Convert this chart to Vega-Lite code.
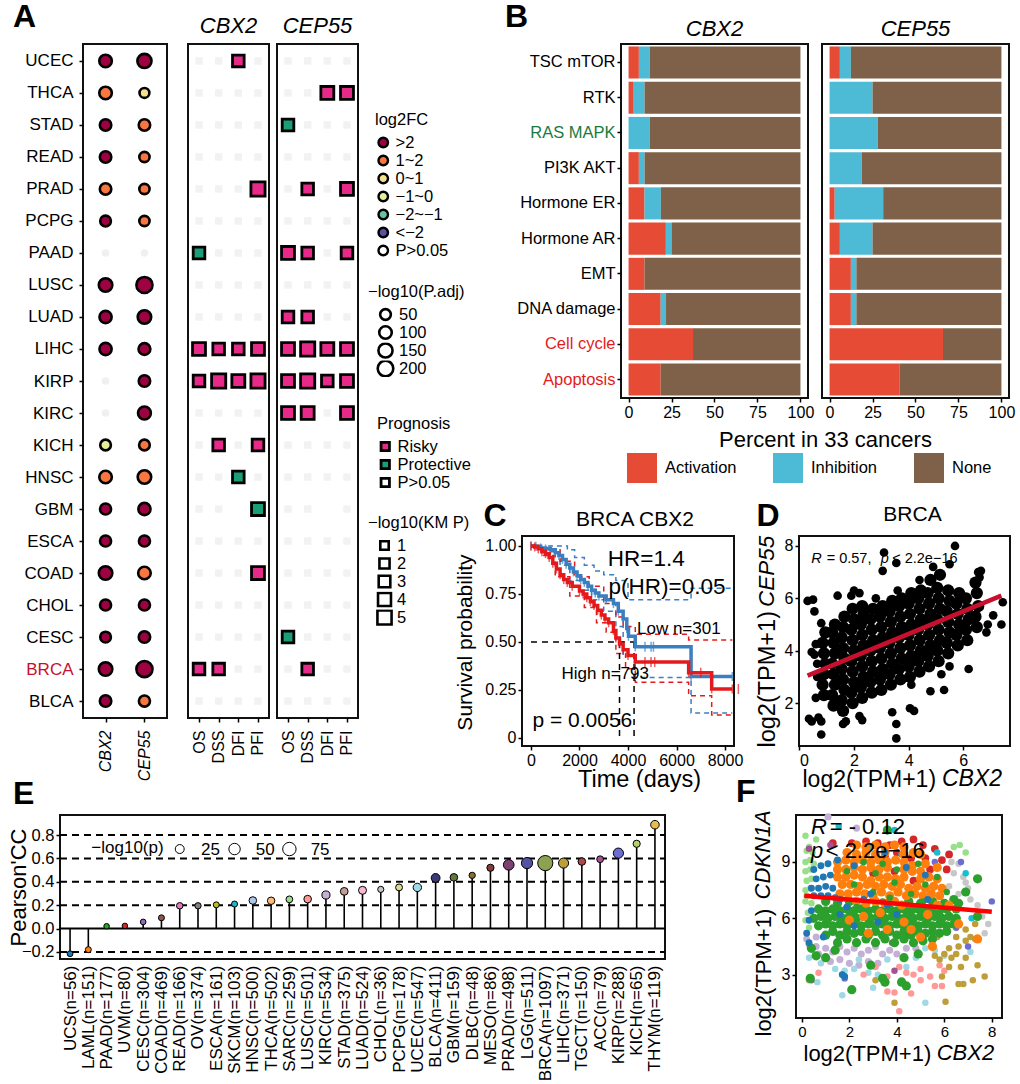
{"$schema":"https://vega.github.io/schema/vega-lite/v6.json","padding":{"left":5,"top":1,"right":0,"bottom":0},"background":"white",
"config":{"font":"Liberation Sans","view":{"stroke":"#111","strokeWidth":2},"axis":{"grid":false,"domain":false,"tickColor":"black","tickSize":4,"tickWidth":1.5,"labelColor":"black","titleColor":"black","titleFontWeight":"normal","labelFontSize":16,"titleFontSize":22},"legend":{"titleFontWeight":"normal","titleFontSize":16.5,"labelFontSize":16.5,"titleColor":"black","labelColor":"black","titlePadding":6,"rowPadding":1,"clipHeight":16,"symbolOpacity":1},"title":{"fontWeight":"normal","color":"black","frame":"group"}},
"datasets":{
"ns2":[{"c":"UCEC","e":"OS"},{"c":"UCEC","e":"DSS"},{"c":"UCEC","e":"PFI"},{"c":"THCA","e":"OS"},{"c":"THCA","e":"DSS"},{"c":"THCA","e":"DFI"},{"c":"THCA","e":"PFI"},{"c":"STAD","e":"OS"},{"c":"STAD","e":"DSS"},{"c":"STAD","e":"DFI"},{"c":"STAD","e":"PFI"},{"c":"READ","e":"OS"},{"c":"READ","e":"DSS"},{"c":"READ","e":"DFI"},{"c":"READ","e":"PFI"},{"c":"PRAD","e":"OS"},{"c":"PRAD","e":"DSS"},{"c":"PRAD","e":"DFI"},{"c":"PCPG","e":"OS"},{"c":"PCPG","e":"DSS"},{"c":"PCPG","e":"DFI"},{"c":"PCPG","e":"PFI"},{"c":"PAAD","e":"DSS"},{"c":"PAAD","e":"DFI"},{"c":"PAAD","e":"PFI"},{"c":"LUSC","e":"OS"},{"c":"LUSC","e":"DSS"},{"c":"LUSC","e":"DFI"},{"c":"LUSC","e":"PFI"},{"c":"LUAD","e":"OS"},{"c":"LUAD","e":"DSS"},{"c":"LUAD","e":"DFI"},{"c":"LUAD","e":"PFI"},{"c":"KIRC","e":"OS"},{"c":"KIRC","e":"DSS"},{"c":"KIRC","e":"DFI"},{"c":"KIRC","e":"PFI"},{"c":"KICH","e":"OS"},{"c":"KICH","e":"DFI"},{"c":"HNSC","e":"OS"},{"c":"HNSC","e":"DSS"},{"c":"HNSC","e":"PFI"},{"c":"GBM","e":"OS"},{"c":"GBM","e":"DSS"},{"c":"ESCA","e":"OS"},{"c":"ESCA","e":"DSS"},{"c":"ESCA","e":"DFI"},{"c":"ESCA","e":"PFI"},{"c":"COAD","e":"OS"},{"c":"COAD","e":"DSS"},{"c":"COAD","e":"DFI"},{"c":"CHOL","e":"OS"},{"c":"CHOL","e":"DSS"},{"c":"CHOL","e":"DFI"},{"c":"CHOL","e":"PFI"},{"c":"CESC","e":"OS"},{"c":"CESC","e":"DSS"},{"c":"CESC","e":"DFI"},{"c":"CESC","e":"PFI"},{"c":"BRCA","e":"DFI"},{"c":"BRCA","e":"PFI"},{"c":"BLCA","e":"OS"},{"c":"BLCA","e":"DSS"},{"c":"BLCA","e":"DFI"},{"c":"BLCA","e":"PFI"}],
"ns5":[{"c":"UCEC","e":"OS"},{"c":"UCEC","e":"DSS"},{"c":"UCEC","e":"DFI"},{"c":"UCEC","e":"PFI"},{"c":"THCA","e":"OS"},{"c":"THCA","e":"DSS"},{"c":"STAD","e":"DSS"},{"c":"STAD","e":"DFI"},{"c":"STAD","e":"PFI"},{"c":"READ","e":"OS"},{"c":"READ","e":"DSS"},{"c":"READ","e":"DFI"},{"c":"READ","e":"PFI"},{"c":"PRAD","e":"OS"},{"c":"PRAD","e":"DFI"},{"c":"PCPG","e":"OS"},{"c":"PCPG","e":"DSS"},{"c":"PCPG","e":"DFI"},{"c":"PCPG","e":"PFI"},{"c":"PAAD","e":"DFI"},{"c":"LUSC","e":"OS"},{"c":"LUSC","e":"DSS"},{"c":"LUSC","e":"DFI"},{"c":"LUSC","e":"PFI"},{"c":"LUAD","e":"DFI"},{"c":"LUAD","e":"PFI"},{"c":"KIRC","e":"DFI"},{"c":"KICH","e":"OS"},{"c":"KICH","e":"DSS"},{"c":"KICH","e":"DFI"},{"c":"KICH","e":"PFI"},{"c":"HNSC","e":"OS"},{"c":"HNSC","e":"DSS"},{"c":"HNSC","e":"DFI"},{"c":"HNSC","e":"PFI"},{"c":"GBM","e":"OS"},{"c":"GBM","e":"DSS"},{"c":"GBM","e":"PFI"},{"c":"ESCA","e":"OS"},{"c":"ESCA","e":"DSS"},{"c":"ESCA","e":"DFI"},{"c":"ESCA","e":"PFI"},{"c":"COAD","e":"OS"},{"c":"COAD","e":"DSS"},{"c":"COAD","e":"DFI"},{"c":"COAD","e":"PFI"},{"c":"CHOL","e":"OS"},{"c":"CHOL","e":"DSS"},{"c":"CHOL","e":"DFI"},{"c":"CHOL","e":"PFI"},{"c":"CESC","e":"DSS"},{"c":"CESC","e":"DFI"},{"c":"CESC","e":"PFI"},{"c":"BRCA","e":"OS"},{"c":"BRCA","e":"DFI"},{"c":"BRCA","e":"PFI"},{"c":"BLCA","e":"OS"},{"c":"BLCA","e":"DSS"},{"c":"BLCA","e":"DFI"},{"c":"BLCA","e":"PFI"}],
"sig2":[{"c":"UCEC","e":"DFI","p":"Risky","k":3},{"c":"PRAD","e":"PFI","p":"Risky","k":5},{"c":"PAAD","e":"OS","p":"Protective","k":3},{"c":"LIHC","e":"OS","p":"Risky","k":4},{"c":"LIHC","e":"DSS","p":"Risky","k":3},{"c":"LIHC","e":"DFI","p":"Risky","k":3},{"c":"LIHC","e":"PFI","p":"Risky","k":4},{"c":"KIRP","e":"OS","p":"Risky","k":3},{"c":"KIRP","e":"DSS","p":"Risky","k":5},{"c":"KIRP","e":"DFI","p":"Risky","k":4},{"c":"KIRP","e":"PFI","p":"Risky","k":5},{"c":"KICH","e":"DSS","p":"Risky","k":3},{"c":"KICH","e":"PFI","p":"Risky","k":3},{"c":"HNSC","e":"DFI","p":"Protective","k":3},{"c":"GBM","e":"PFI","p":"Protective","k":4},{"c":"COAD","e":"PFI","p":"Risky","k":4},{"c":"BRCA","e":"OS","p":"Risky","k":3},{"c":"BRCA","e":"DSS","p":"Risky","k":3}],
"sig5":[{"c":"THCA","e":"DFI","p":"Risky","k":4},{"c":"THCA","e":"PFI","p":"Risky","k":4},{"c":"STAD","e":"OS","p":"Protective","k":3},{"c":"PRAD","e":"DSS","p":"Risky","k":3},{"c":"PRAD","e":"PFI","p":"Risky","k":4},{"c":"PAAD","e":"OS","p":"Risky","k":4},{"c":"PAAD","e":"DSS","p":"Risky","k":3},{"c":"PAAD","e":"PFI","p":"Risky","k":3},{"c":"LUAD","e":"OS","p":"Risky","k":3},{"c":"LUAD","e":"DSS","p":"Risky","k":3},{"c":"LIHC","e":"OS","p":"Risky","k":4},{"c":"LIHC","e":"DSS","p":"Risky","k":5},{"c":"LIHC","e":"DFI","p":"Risky","k":4},{"c":"LIHC","e":"PFI","p":"Risky","k":4},{"c":"KIRP","e":"OS","p":"Risky","k":4},{"c":"KIRP","e":"DSS","p":"Risky","k":5},{"c":"KIRP","e":"DFI","p":"Risky","k":3},{"c":"KIRP","e":"PFI","p":"Risky","k":4},{"c":"KIRC","e":"OS","p":"Risky","k":4},{"c":"KIRC","e":"DSS","p":"Risky","k":4},{"c":"KIRC","e":"PFI","p":"Risky","k":4},{"c":"CESC","e":"OS","p":"Protective","k":3},{"c":"BRCA","e":"DSS","p":"Risky","k":3}],
"expr":[{"c":"UCEC","g":"CBX2","f":">2","s":100},{"c":"UCEC","g":"CEP55","f":">2","s":150},{"c":"THCA","g":"CBX2","f":"1~2","s":100},{"c":"THCA","g":"CEP55","f":"0~1","s":30},{"c":"STAD","g":"CBX2","f":">2","s":70},{"c":"STAD","g":"CEP55","f":"1~2","s":70},{"c":"READ","g":"CBX2","f":">2","s":70},{"c":"READ","g":"CEP55","f":"1~2","s":40},{"c":"PRAD","g":"CBX2","f":"1~2","s":70},{"c":"PRAD","g":"CEP55","f":"1~2","s":40},{"c":"PCPG","g":"CBX2","f":">2","s":50},{"c":"PCPG","g":"CEP55","f":"1~2","s":40},{"c":"LUSC","g":"CBX2","f":">2","s":130},{"c":"LUSC","g":"CEP55","f":">2","s":220},{"c":"LUAD","g":"CBX2","f":">2","s":90},{"c":"LUAD","g":"CEP55","f":">2","s":130},{"c":"LIHC","g":"CBX2","f":">2","s":90},{"c":"LIHC","g":"CEP55","f":">2","s":80},{"c":"KIRP","g":"CEP55","f":">2","s":70},{"c":"KIRC","g":"CEP55","f":">2","s":110},{"c":"KICH","g":"CBX2","f":"−1~0","s":50},{"c":"KICH","g":"CEP55","f":"1~2","s":50},{"c":"HNSC","g":"CBX2","f":"1~2","s":100},{"c":"HNSC","g":"CEP55","f":"1~2","s":130},{"c":"GBM","g":"CBX2","f":">2","s":60},{"c":"GBM","g":"CEP55","f":">2","s":90},{"c":"ESCA","g":"CBX2","f":">2","s":60},{"c":"ESCA","g":"CEP55","f":">2","s":60},{"c":"COAD","g":"CBX2","f":">2","s":130},{"c":"COAD","g":"CEP55","f":"1~2","s":100},{"c":"CHOL","g":"CBX2","f":">2","s":60},{"c":"CHOL","g":"CEP55","f":">2","s":60},{"c":"CESC","g":"CBX2","f":">2","s":50},{"c":"CESC","g":"CEP55","f":">2","s":70},{"c":"BRCA","g":"CBX2","f":">2","s":130},{"c":"BRCA","g":"CEP55","f":">2","s":220},{"c":"BLCA","g":"CBX2","f":">2","s":70},{"c":"BLCA","g":"CEP55","f":"1~2","s":60}],
"exprNs":[{"c":"PAAD","g":"CBX2"},{"c":"PAAD","g":"CEP55"},{"c":"KIRP","g":"CBX2"},{"c":"KIRC","g":"CBX2"}],
"pw2":[{"k":"TSC mTOR","s":"Activation","v":6},{"k":"TSC mTOR","s":"Inhibition","v":6.4},{"k":"TSC mTOR","s":"None","v":87.6},{"k":"RTK","s":"Activation","v":3},{"k":"RTK","s":"Inhibition","v":6.3},{"k":"RTK","s":"None","v":90.7},{"k":"RAS MAPK","s":"Inhibition","v":12.4},{"k":"RAS MAPK","s":"None","v":87.6},{"k":"PI3K AKT","s":"Activation","v":6},{"k":"PI3K AKT","s":"Inhibition","v":3.3},{"k":"PI3K AKT","s":"None","v":90.7},{"k":"Hormone ER","s":"Activation","v":9.3},{"k":"Hormone ER","s":"Inhibition","v":9.5},{"k":"Hormone ER","s":"None","v":81.2},{"k":"Hormone AR","s":"Activation","v":21.7},{"k":"Hormone AR","s":"Inhibition","v":3.3},{"k":"Hormone AR","s":"None","v":75},{"k":"EMT","s":"Activation","v":9.3},{"k":"EMT","s":"None","v":90.7},{"k":"DNA damage","s":"Activation","v":18.7},{"k":"DNA damage","s":"Inhibition","v":3.1},{"k":"DNA damage","s":"None","v":78.2},{"k":"Cell cycle","s":"Activation","v":37.5},{"k":"Cell cycle","s":"None","v":62.5},{"k":"Apoptosis","s":"Activation","v":18.7},{"k":"Apoptosis","s":"None","v":81.3}],
"pw5":[{"k":"TSC mTOR","s":"Activation","v":6},{"k":"TSC mTOR","s":"Inhibition","v":6.4},{"k":"TSC mTOR","s":"None","v":87.6},{"k":"RTK","s":"Inhibition","v":25},{"k":"RTK","s":"None","v":75},{"k":"RAS MAPK","s":"Inhibition","v":28},{"k":"RAS MAPK","s":"None","v":72},{"k":"PI3K AKT","s":"Inhibition","v":18.7},{"k":"PI3K AKT","s":"None","v":81.3},{"k":"Hormone ER","s":"Activation","v":3},{"k":"Hormone ER","s":"Inhibition","v":28.2},{"k":"Hormone ER","s":"None","v":68.8},{"k":"Hormone AR","s":"Activation","v":6},{"k":"Hormone AR","s":"Inhibition","v":19},{"k":"Hormone AR","s":"None","v":75},{"k":"EMT","s":"Activation","v":12.4},{"k":"EMT","s":"Inhibition","v":3.2},{"k":"EMT","s":"None","v":84.4},{"k":"DNA damage","s":"Activation","v":12.4},{"k":"DNA damage","s":"Inhibition","v":3.2},{"k":"DNA damage","s":"None","v":84.4},{"k":"Cell cycle","s":"Activation","v":66},{"k":"Cell cycle","s":"None","v":34},{"k":"Apoptosis","s":"Activation","v":40.6},{"k":"Apoptosis","s":"None","v":59.4}],
"blue":[{"t":0,"s":1},{"t":200,"s":0.998},{"t":400,"s":0.99},{"t":600,"s":0.985},{"t":800,"s":0.98},{"t":1000,"s":0.965},{"t":1150,"s":0.95},{"t":1300,"s":0.93},{"t":1450,"s":0.905},{"t":1600,"s":0.885},{"t":1750,"s":0.865},{"t":1900,"s":0.845},{"t":2050,"s":0.825},{"t":2200,"s":0.81},{"t":2350,"s":0.79},{"t":2500,"s":0.77},{"t":2650,"s":0.755},{"t":2800,"s":0.74},{"t":3100,"s":0.72},{"t":3400,"s":0.7},{"t":3600,"s":0.66},{"t":3800,"s":0.62},{"t":3950,"s":0.57},{"t":4020,"s":0.53},{"t":4300,"s":0.475},{"t":6600,"s":0.32},{"t":8300,"s":0.32}],
"red":[{"t":0,"s":1},{"t":150,"s":0.995},{"t":300,"s":0.985},{"t":450,"s":0.97},{"t":600,"s":0.96},{"t":750,"s":0.94},{"t":900,"s":0.91},{"t":1050,"s":0.88},{"t":1200,"s":0.85},{"t":1350,"s":0.825},{"t":1500,"s":0.81},{"t":1700,"s":0.79},{"t":2000,"s":0.765},{"t":2150,"s":0.75},{"t":2300,"s":0.73},{"t":2450,"s":0.71},{"t":2600,"s":0.69},{"t":2750,"s":0.665},{"t":2900,"s":0.64},{"t":3050,"s":0.62},{"t":3200,"s":0.6},{"t":3400,"s":0.56},{"t":3500,"s":0.52},{"t":3650,"s":0.49},{"t":3800,"s":0.46},{"t":4000,"s":0.43},{"t":4300,"s":0.395},{"t":6500,"s":0.34},{"t":7450,"s":0.255},{"t":8300,"s":0.255}],
"blueCI":[{"b":"u","t":700,"s":1},{"b":"u","t":1500,"s":0.98},{"b":"u","t":1800,"s":0.94},{"b":"u","t":2200,"s":0.9},{"b":"u","t":2600,"s":0.87},{"b":"u","t":3000,"s":0.85},{"b":"u","t":3500,"s":0.82},{"b":"u","t":4000,"s":0.72},{"b":"u","t":6600,"s":0.78},{"b":"u","t":8300,"s":0.78},{"b":"l","t":800,"s":0.97},{"b":"l","t":1200,"s":0.9},{"b":"l","t":1600,"s":0.82},{"b":"l","t":2000,"s":0.77},{"b":"l","t":2500,"s":0.72},{"b":"l","t":3000,"s":0.66},{"b":"l","t":3500,"s":0.58},{"b":"l","t":3800,"s":0.43},{"b":"l","t":4300,"s":0.315},{"b":"l","t":6600,"s":0.13},{"b":"l","t":8300,"s":0.13}],
"redCI":[{"b":"u","t":800,"s":0.98},{"b":"u","t":1200,"s":0.92},{"b":"u","t":1800,"s":0.84},{"b":"u","t":2400,"s":0.79},{"b":"u","t":3000,"s":0.7},{"b":"u","t":3500,"s":0.63},{"b":"u","t":3800,"s":0.58},{"b":"u","t":4300,"s":0.54},{"b":"u","t":6500,"s":0.51},{"b":"u","t":8300,"s":0.51},{"b":"l","t":500,"s":0.95},{"b":"l","t":1000,"s":0.84},{"b":"l","t":1600,"s":0.74},{"b":"l","t":2200,"s":0.68},{"b":"l","t":2700,"s":0.6},{"b":"l","t":3100,"s":0.55},{"b":"l","t":3500,"s":0.44},{"b":"l","t":3900,"s":0.36},{"b":"l","t":4300,"s":0.29},{"b":"l","t":6500,"s":0.22},{"b":"l","t":7450,"s":0.12},{"b":"l","t":8300,"s":0.12}],
"lollipop":[{"c":"UCS(n=56)","v":-0.215,"p":2},{"c":"LAML(n=151)","v":-0.18,"p":3},{"c":"PAAD(n=177)","v":0.02,"p":0.5},{"c":"UVM(n=80)","v":0.023,"p":0.3},{"c":"CESC(n=304)","v":0.057,"p":1},{"c":"COAD(n=469)","v":0.092,"p":3},{"c":"READ(n=166)","v":0.195,"p":6},{"c":"OV(n=374)","v":0.195,"p":5},{"c":"ESCA(n=161)","v":0.203,"p":3},{"c":"SKCM(n=103)","v":0.21,"p":3},{"c":"HNSC(n=500)","v":0.24,"p":14},{"c":"THCA(n=502)","v":0.238,"p":13},{"c":"SARC(n=259)","v":0.25,"p":8},{"c":"LUSC(n=501)","v":0.252,"p":14},{"c":"KIRC(n=534)","v":0.287,"p":18},{"c":"STAD(n=375)","v":0.318,"p":15},{"c":"LUAD(n=524)","v":0.327,"p":17},{"c":"CHOL(n=36)","v":0.335,"p":4},{"c":"PCPG(n=178)","v":0.352,"p":9},{"c":"UCEC(n=547)","v":0.352,"p":20},{"c":"BLCA(n=411)","v":0.433,"p":24},{"c":"GBM(n=159)","v":0.438,"p":14},{"c":"DLBC(n=48)","v":0.455,"p":5},{"c":"MESO(n=86)","v":0.52,"p":11},{"c":"PRAD(n=498)","v":0.545,"p":42},{"c":"LGG(n=511)","v":0.56,"p":48},{"c":"BRCA(n=1097)","v":0.56,"p":100},{"c":"LIHC(n=371)","v":0.56,"p":36},{"c":"TGCT(n=150)","v":0.573,"p":14},{"c":"ACC(n=79)","v":0.593,"p":8},{"c":"KIRP(n=288)","v":0.645,"p":37},{"c":"KICH(n=65)","v":0.725,"p":11},{"c":"THYM(n=119)","v":0.888,"p":22}]
},
"resolve":{"scale":{"fill":"independent","size":"independent","color":"independent"}},
"vconcat":[
{"resolve":{"scale":{"fill":"independent","size":"independent","color":"independent"}},"hconcat":[
 {"resolve":{"scale":{"fill":"independent","size":"independent","color":"independent"}},"hconcat":[
  {"resolve":{"scale":{"fill":"independent","size":"independent","color":"independent"}},"hconcat":[
   {"width":15,"height":674,"view":{"stroke":null},"title":{"text":"A","fontSize":32,"fontWeight":"bold","anchor":"start","dx":-47,"offset":10},"data":{"values":[{"t":""}]},"mark":"text","encoding":{"text":{"field":"t"}}},
   {"width":84,"height":674,
    "encoding":{"x":{"field":"g","type":"nominal","scale":{"type":"point","domain":["CBX2","CEP55"],"padding":0.58},"axis":{"title":null,"labelAngle":270,"labelFontStyle":"italic","labelPadding":8}},
     "y":{"field":"c","type":"nominal","scale":{"type":"point","padding":0.53,"domain":["UCEC","THCA","STAD","READ","PRAD","PCPG","PAAD","LUSC","LUAD","LIHC","KIRP","KIRC","KICH","HNSC","GBM","ESCA","COAD","CHOL","CESC","BRCA","BLCA"]},"axis":{"title":null,"labelPadding":6,"labelFontSize":17,"labelColor":{"condition":{"test":"datum.label==='BRCA'","value":"#c8102e"},"value":"black"}}}},
    "layer":[
     {"data":{"name":"exprNs"},"mark":{"type":"circle","size":55,"color":"#f0f0f0","opacity":1}},
     {"data":{"name":"expr"},"mark":{"type":"point","shape":"circle","filled":true,"stroke":"black","strokeWidth":2.6,"opacity":1},"encoding":{
       "fill":{"field":"f","type":"nominal","legend":null,"scale":{"domain":[">2","1~2","0~1","−1~0","−2~−1","<−2","P>0.05"],"range":["#9e0142","#f9763f","#f6e08b","#e8ed98","#66c2a5","#5e4fa2","#ffffff"]}},
       "size":{"field":"s","type":"quantitative","legend":null,"scale":{"domain":[10,220],"range":[80,260]}}}}
    ]}
   ],"spacing":8,"bounds":"flush"},
  {"resolve":{"scale":{"fill":"independent","size":"independent","color":"independent"}},"hconcat":[
   {"width":81,"height":674,"title":{"text":"CBX2","fontStyle":"italic","fontSize":22,"offset":6},
    "encoding":{"x":{"field":"e","type":"nominal","scale":{"type":"point","domain":["OS","DSS","DFI","PFI"],"padding":0.56},"axis":{"title":null,"labelAngle":270,"labelPadding":8}},
     "y":{"field":"c","type":"nominal","scale":{"type":"point","padding":0.53,"domain":["UCEC","THCA","STAD","READ","PRAD","PCPG","PAAD","LUSC","LUAD","LIHC","KIRP","KIRC","KICH","HNSC","GBM","ESCA","COAD","CHOL","CESC","BRCA","BLCA"]},"axis":null}},
    "layer":[
     {"data":{"name":"ns2"},"mark":{"type":"square","size":55,"color":"#f2f2f2","opacity":1}},
     {"data":{"name":"sig2"},"mark":{"type":"point","shape":"square","filled":true,"stroke":"black","strokeWidth":2.8,"opacity":1},"encoding":{
       "fill":{"field":"p","type":"nominal","legend":null,"scale":{"domain":["Risky","Protective","P>0.05"],"range":["#e7298a","#1b9e77","#ffffff"]}},
       "size":{"field":"k","type":"quantitative","legend":null,"scale":{"domain":[1,5],"range":[70,200]}}}}
    ]},
   {"width":81,"height":674,"title":{"text":"CEP55","fontStyle":"italic","fontSize":22,"offset":6},
    "encoding":{"x":{"field":"e","type":"nominal","scale":{"type":"point","domain":["OS","DSS","DFI","PFI"],"padding":0.56},"axis":{"title":null,"labelAngle":270,"labelPadding":8}},
     "y":{"field":"c","type":"nominal","scale":{"type":"point","padding":0.53,"domain":["UCEC","THCA","STAD","READ","PRAD","PCPG","PAAD","LUSC","LUAD","LIHC","KIRP","KIRC","KICH","HNSC","GBM","ESCA","COAD","CHOL","CESC","BRCA","BLCA"]},"axis":null}},
    "layer":[
     {"data":{"name":"ns5"},"mark":{"type":"square","size":55,"color":"#f2f2f2","opacity":1}},
     {"data":{"name":"sig5"},"mark":{"type":"point","shape":"square","filled":true,"stroke":"black","strokeWidth":2.8,"opacity":1},"encoding":{
       "fill":{"field":"p","type":"nominal","legend":null,"scale":{"domain":["Risky","Protective","P>0.05"],"range":["#e7298a","#1b9e77","#ffffff"]}},
       "size":{"field":"k","type":"quantitative","legend":null,"scale":{"domain":[1,5],"range":[70,200]}}}}
    ]},
   {"width":100,"height":674,"view":{"stroke":null},
    "data":{"values":[{"f":">2","s":50,"p":"Risky","k":1}]},"transform":[{"filter":"datum.s<0"}],
    "layer":[
     {"mark":{"type":"point","shape":"circle","filled":true,"stroke":"black","strokeWidth":2.4},"encoding":{"fill":{"field":"f","type":"nominal","scale":{"domain":[">2","1~2","0~1","−1~0","−2~−1","<−2","P>0.05"],"range":["#9e0142","#f9763f","#f6e08b","#e8ed98","#66c2a5","#5e4fa2","#ffffff"]},"legend":{"title":"log2FC","orient":"none","legendX":9,"legendY":68,"symbolType":"circle","symbolSize":90,"symbolStrokeColor":"black","symbolStrokeWidth":2.4}}}},
     {"mark":{"type":"point","shape":"circle","stroke":"black","strokeWidth":2.6},"encoding":{"size":{"field":"s","type":"quantitative","scale":{"domain":[10,220],"range":[80,260]},"legend":{"title":"−log10(P.adj)","orient":"none","legendX":2,"legendY":240,"values":[50,100,150,200],"symbolType":"circle","symbolFillColor":"white","symbolStrokeColor":"black","symbolStrokeWidth":2.6,"symbolOffset":8}}}},
     {"mark":{"type":"point","shape":"square","filled":true,"stroke":"black","strokeWidth":2.8},"encoding":{"fill":{"field":"p","type":"nominal","scale":{"domain":["Risky","Protective","P>0.05"],"range":["#e7298a","#1b9e77","#ffffff"]},"legend":{"title":"Prognosis","orient":"none","legendX":11,"legendY":372,"symbolType":"square","symbolSize":70,"symbolStrokeColor":"black","symbolStrokeWidth":2.8}}}},
     {"mark":{"type":"point","shape":"square","stroke":"black","strokeWidth":2.6},"encoding":{"size":{"field":"k","type":"quantitative","scale":{"domain":[1,5],"range":[70,200]},"legend":{"title":"−log10(KM P)","orient":"none","legendX":2,"legendY":471,"values":[1,2,3,4,5],"symbolType":"square","symbolFillColor":"white","symbolStrokeColor":"black","symbolStrokeWidth":2.6,"symbolOffset":8,"format":"d"}}}}
    ],
    "resolve":{"scale":{"fill":"independent","size":"independent"}}}
   ],"spacing":8,"bounds":"flush"}
  ],"spacing":17},
 {"resolve":{"scale":{"fill":"independent","size":"independent","color":"independent"}},"vconcat":[
  {"resolve":{"scale":{"fill":"independent","size":"independent","color":"independent"}},"hconcat":[
   {"width":85,"height":354,"view":{"stroke":null},"title":{"text":"B","fontSize":32,"fontWeight":"bold","anchor":"start","dx":-17,"offset":10},"data":{"values":[{"t":""}]},"mark":"text","encoding":{"text":{"field":"t"}}},
   {"width":187,"height":354,"title":{"text":"CBX2","fontStyle":"italic","fontSize":22,"offset":3},"data":{"name":"pw2"},"mark":{"type":"bar"},
    "encoding":{"x":{"field":"v","type":"quantitative","stack":"zero","scale":{"domain":[-4.4,104.4],"nice":false},"axis":{"values":[0,25,50,75,100],"title":"Percent in 33 cancers","titleX":204,"titleY":41,"titleBaseline":"middle","titleAlign":"center"}},
     "y":{"field":"k","type":"nominal","scale":{"type":"band","paddingInner":0.09,"paddingOuter":0.07,"domain":["TSC mTOR","RTK","RAS MAPK","PI3K AKT","Hormone ER","Hormone AR","EMT","DNA damage","Cell cycle","Apoptosis"]},"axis":{"title":null,"labelFontSize":16.5,"labelColor":{"condition":[{"test":"datum.label==='RAS MAPK'","value":"#1a7a3c"},{"test":"datum.label==='Cell cycle'||datum.label==='Apoptosis'","value":"#e41a1c"}],"value":"black"}}},
     "color":{"field":"s","type":"nominal","scale":{"domain":["Activation","Inhibition","None"],"range":["#E64B35","#4DBBD5","#7E6148"]},"legend":{"title":null,"orient":"none","legendX":6,"legendY":409,"direction":"horizontal","columns":3,"symbolType":"square","symbolSize":900,"columnPadding":36,"labelOffset":8,"clipHeight":30,"symbolStrokeWidth":0}}}},
   {"width":187,"height":354,"title":{"text":"CEP55","fontStyle":"italic","fontSize":22,"offset":3},"data":{"name":"pw5"},"mark":{"type":"bar"},
    "encoding":{"x":{"field":"v","type":"quantitative","stack":"zero","scale":{"domain":[-4.4,104.4],"nice":false},"axis":{"values":[0,25,50,75,100],"title":null}},
     "y":{"field":"k","type":"nominal","scale":{"type":"band","paddingInner":0.09,"paddingOuter":0.07,"domain":["TSC mTOR","RTK","RAS MAPK","PI3K AKT","Hormone ER","Hormone AR","EMT","DNA damage","Cell cycle","Apoptosis"]},"axis":null},
     "color":{"field":"s","type":"nominal","legend":null,"scale":{"domain":["Activation","Inhibition","None"],"range":["#E64B35","#4DBBD5","#7E6148"]}}}}
   ],"spacing":14,"bounds":"flush"},
  {"hconcat":[
   {"width":212,"height":210,"title":{"text":"BRCA CBX2","fontSize":21,"dx":7,"offset":-30},
    "encoding":{"x":{"field":"t","type":"quantitative","scale":{"domain":[-370,8370],"nice":false},"axis":{"values":[0,2000,4000,6000,8000],"format":"d","title":"Time (days)","titleFontSize":23.5,"titleX":117,"titleY":33,"titleBaseline":"middle","titleAlign":"center"}},
     "y":{"field":"s","type":"quantitative","scale":{"domain":[-0.042,1.052],"nice":false},"axis":{"values":[0,0.25,0.5,0.75,1],"labelExpr":"datum.value==0?'0':format(datum.value,'.2f')","title":"Survival probability","titleFontSize":21,"titleX":-57,"titleY":106,"titleBaseline":"middle","titleAlign":"center"}}},
    "layer":[
     {"data":{"name":"blueCI"},"mark":{"type":"line","interpolate":"step-after","color":"#3a7fc1","strokeWidth":1.5,"strokeDash":[5,4]},"encoding":{"detail":{"field":"b"}}},
     {"data":{"name":"redCI"},"mark":{"type":"line","interpolate":"step-after","color":"#e41a1c","strokeWidth":1.5,"strokeDash":[5,4]},"encoding":{"detail":{"field":"b"}}},
     {"data":{"values":[{"b":"h","t":0,"s":0.5},{"b":"h","t":4250,"s":0.5},{"b":"v1","t":3650,"s":0.5},{"b":"v1","t":3650,"s":0},{"b":"v2","t":4250,"s":0.5},{"b":"v2","t":4250,"s":0}]},"mark":{"type":"line","color":"black","strokeWidth":1.5,"strokeDash":[6,5]},"encoding":{"detail":{"field":"b"}}},
     {"data":{"name":"blue"},"mark":{"type":"line","interpolate":"step-after","color":"#3a7fc1","strokeWidth":3.5}},
     {"data":{"name":"blue"},"mark":{"type":"tick","color":"#3a7fc1","orient":"vertical","size":9,"thickness":1.5}},
     {"data":{"name":"red"},"mark":{"type":"line","interpolate":"step-after","color":"#e41a1c","strokeWidth":3.5}},
     {"data":{"name":"red"},"mark":{"type":"tick","color":"#e41a1c","orient":"vertical","size":9,"thickness":1.5}},
     {"data":{"values":[{"t":4700,"s":0.475},{"t":4950,"s":0.475},{"t":5050,"s":0.475}]},"mark":{"type":"tick","color":"#3a7fc1","orient":"vertical","size":10,"thickness":1.5}},
     {"data":{"values":[{"t":4700,"s":0.395},{"t":4950,"s":0.395},{"t":5100,"s":0.395},{"t":7000,"s":0.34},{"t":8550,"s":0.255}]},"mark":{"type":"tick","color":"#e41a1c","orient":"vertical","size":10,"thickness":1.5}},
     {"data":{"values":[{"t":3170,"s":0.93,"l":"HR=1.4"},{"t":3200,"s":0.786,"l":"p(HR)=0.05"}]},"mark":{"type":"text","align":"left","fontSize":22.5},"encoding":{"text":{"field":"l"}}},
     {"data":{"values":[{"t":4370,"s":0.57,"l":"Low n=301"},{"t":1260,"s":0.335,"l":"High n=793"}]},"mark":{"type":"text","align":"left","fontSize":17},"encoding":{"text":{"field":"l"}}},
     {"data":{"values":[{"t":60,"s":0.087,"l":"p = 0.0056"}]},"mark":{"type":"text","align":"left","fontSize":21},"encoding":{"text":{"field":"l"}}},
     {"data":{"values":[{"t":-1485,"s":1.156,"l":"C"}]},"mark":{"type":"text","fontSize":32,"fontWeight":"bold"},"encoding":{"text":{"field":"l"}}}
    ]},
   {"width":211,"height":210,"title":{"text":"BRCA","fontSize":21,"dx":8,"offset":-25},
    "encoding":{"x":{"field":"x","type":"quantitative","scale":{"domain":[-0.015,7.715],"nice":false},"axis":{"values":[0,2,4,6],"title":"log2(TPM+1)","titleFontSize":23,"titleX":3,"titleY":33,"titleBaseline":"middle","titleAlign":"left"}},
     "y":{"field":"y","type":"quantitative","scale":{"domain":[0.36,8.38],"nice":false},"axis":{"values":[2,4,6,8],"title":"log2(TPM+1)","titleFontSize":23.5,"titleX":-32,"titleY":211,"titleBaseline":"middle","titleAlign":"left"}}},
    "layer":[
     {"data":{"values":[{"x":0.9,"y":2.3},{"x":0.85,"y":2.7},{"x":0.9,"y":3.1},{"x":0.95,"y":3.5},{"x":0.9,"y":3.9},{"x":0.85,"y":4.3},{"x":0.95,"y":4.7},{"x":1.25,"y":1.9},{"x":1.2,"y":2.3},{"x":1.3,"y":2.7},{"x":1.25,"y":3.1},{"x":1.2,"y":3.5},{"x":1.3,"y":3.9},{"x":1.25,"y":4.3},{"x":1.2,"y":4.7},{"x":1.3,"y":5.0},{"x":1.6,"y":1.7},{"x":1.55,"y":2.1},{"x":1.65,"y":2.5},{"x":1.6,"y":2.9},{"x":1.55,"y":3.3},{"x":1.65,"y":3.7},{"x":1.6,"y":4.1},{"x":1.55,"y":4.5},{"x":1.6,"y":4.9},{"x":1.65,"y":5.3},{"x":1.95,"y":2.0},{"x":1.9,"y":2.4},{"x":2.0,"y":2.8},{"x":1.95,"y":3.2},{"x":1.9,"y":3.6},{"x":2.0,"y":4.0},{"x":1.95,"y":4.4},{"x":1.9,"y":4.8},{"x":2.0,"y":5.2},{"x":1.95,"y":5.6},{"x":2.3,"y":2.2},{"x":2.25,"y":2.6},{"x":2.35,"y":3.0},{"x":2.3,"y":3.4},{"x":2.25,"y":3.8},{"x":2.35,"y":4.2},{"x":2.3,"y":4.6},{"x":2.25,"y":5.0},{"x":2.35,"y":5.4},{"x":2.3,"y":5.7},{"x":2.65,"y":2.4},{"x":2.6,"y":2.8},{"x":2.7,"y":3.2},{"x":2.65,"y":3.6},{"x":2.6,"y":4.0},{"x":2.7,"y":4.4},{"x":2.65,"y":4.8},{"x":2.6,"y":5.2},{"x":2.7,"y":5.6},{"x":3.0,"y":2.5},{"x":2.95,"y":2.9},{"x":3.05,"y":3.3},{"x":3.0,"y":3.7},{"x":2.95,"y":4.1},{"x":3.05,"y":4.5},{"x":3.0,"y":4.9},{"x":2.95,"y":5.3},{"x":3.05,"y":5.7},{"x":3.35,"y":2.7},{"x":3.3,"y":3.1},{"x":3.4,"y":3.5},{"x":3.35,"y":3.9},{"x":3.3,"y":4.3},{"x":3.4,"y":4.7},{"x":3.35,"y":5.1},{"x":3.3,"y":5.5},{"x":3.4,"y":5.9},{"x":3.7,"y":2.9},{"x":3.65,"y":3.3},{"x":3.75,"y":3.7},{"x":3.7,"y":4.1},{"x":3.65,"y":4.5},{"x":3.75,"y":4.9},{"x":3.7,"y":5.3},{"x":3.65,"y":5.7},{"x":3.75,"y":6.0},{"x":4.05,"y":3.0},{"x":4.0,"y":3.4},{"x":4.1,"y":3.8},{"x":4.05,"y":4.2},{"x":4.0,"y":4.6},{"x":4.1,"y":5.0},{"x":4.05,"y":5.4},{"x":4.0,"y":5.8},{"x":4.1,"y":6.2},{"x":4.4,"y":3.2},{"x":4.35,"y":3.6},{"x":4.45,"y":4.0},{"x":4.4,"y":4.4},{"x":4.35,"y":4.8},{"x":4.45,"y":5.2},{"x":4.4,"y":5.6},{"x":4.35,"y":6.0},{"x":4.45,"y":6.3},{"x":4.75,"y":3.4},{"x":4.7,"y":3.8},{"x":4.8,"y":4.2},{"x":4.75,"y":4.6},{"x":4.7,"y":5.0},{"x":4.8,"y":5.4},{"x":4.75,"y":5.8},{"x":4.7,"y":6.2},{"x":4.8,"y":6.7},{"x":5.1,"y":3.6},{"x":5.05,"y":4.0},{"x":5.15,"y":4.4},{"x":5.1,"y":4.8},{"x":5.05,"y":5.2},{"x":5.15,"y":5.6},{"x":5.1,"y":6.0},{"x":5.05,"y":6.4},{"x":5.15,"y":6.9},{"x":5.45,"y":3.9},{"x":5.4,"y":4.3},{"x":5.5,"y":4.7},{"x":5.45,"y":5.1},{"x":5.4,"y":5.5},{"x":5.5,"y":5.9},{"x":5.45,"y":6.3},{"x":5.8,"y":4.2},{"x":5.75,"y":4.6},{"x":5.85,"y":5.0},{"x":5.8,"y":5.4},{"x":5.75,"y":5.8},{"x":5.85,"y":6.2},{"x":6.15,"y":4.4},{"x":6.1,"y":4.8},{"x":6.2,"y":5.2},{"x":6.15,"y":5.6},{"x":6.1,"y":6.0},{"x":6.5,"y":4.9},{"x":6.45,"y":5.3},{"x":6.55,"y":5.7},{"x":6.5,"y":6.2},{"x":6.45,"y":6.6}]},"mark":{"type":"circle","size":150,"color":"black","opacity":1}},
     {"data":{"values":[{"x":0.3,"y":5.9},{"x":0.5,"y":5.95},{"x":0.55,"y":5.5},{"x":0.8,"y":5.05},{"x":0.6,"y":4.25},{"x":0.45,"y":3.95},{"x":0.55,"y":3.85},{"x":0.65,"y":3.5},{"x":0.35,"y":1.4},{"x":0.45,"y":1.3},{"x":0.7,"y":1.45},{"x":0.8,"y":1.3},{"x":0.8,"y":0.8},{"x":1.6,"y":1.2},{"x":1.7,"y":1.3},{"x":2.3,"y":1.35},{"x":2.2,"y":1.5},{"x":3.1,"y":7.75},{"x":3.05,"y":7.05},{"x":3.55,"y":7.35},{"x":4.9,"y":7.2},{"x":5.5,"y":7.3},{"x":5.7,"y":8.0},{"x":6.55,"y":7},{"x":6.65,"y":7.05},{"x":6.6,"y":6.8},{"x":7.45,"y":5.85},{"x":7.4,"y":5},{"x":7.1,"y":5.35},{"x":6.9,"y":5},{"x":6.85,"y":4.7},{"x":6.2,"y":3.3},{"x":5.3,"y":2.5},{"x":4.8,"y":2.45},{"x":5.2,"y":3.1},{"x":5.5,"y":3.4},{"x":3.4,"y":1.65},{"x":3.55,"y":1.2},{"x":3.55,"y":0.65},{"x":4.05,"y":1.8},{"x":4.2,"y":1.7},{"x":4.1,"y":2.7},{"x":2.0,"y":6.3},{"x":1.9,"y":6.1},{"x":2.2,"y":6.2},{"x":2.8,"y":6.0},{"x":3.6,"y":6.3},{"x":4.4,"y":6.7},{"x":1.4,"y":6.1},{"x":0.65,"y":3.0},{"x":0.6,"y":2.2}]},"mark":{"type":"circle","size":75,"color":"black","opacity":1}},
     {"data":{"values":[{"x":0.3,"y":3.05},{"x":7.4,"y":6.1}]},"mark":{"type":"line","color":"#c8102e","strokeWidth":4.5}},
     {"data":{"values":[{"x":0.43,"y":7.5,"t":"R"},{"x":2.98,"y":7.5,"t":"p"}]},"mark":{"type":"text","align":"left","fontSize":14.5,"fontStyle":"italic"},"encoding":{"text":{"field":"t"}}},
     {"data":{"values":[{"x":1.0,"y":7.5,"t":"= 0.57,"},{"x":3.4,"y":7.5,"t":"< 2.2e−16"}]},"mark":{"type":"text","align":"left","fontSize":14.5},"encoding":{"text":{"field":"t"}}},
     {"data":{"values":[{"x":-1.15,"y":9.15,"t":"D"}]},"mark":{"type":"text","fontSize":32,"fontWeight":"bold"},"encoding":{"text":{"field":"t"}}},
     {"data":{"values":[{"x":5.22,"y":-0.9,"t":"CBX2"}]},"mark":{"type":"text","align":"left","fontSize":23,"fontStyle":"italic"},"encoding":{"text":{"field":"t"}}},
     {"data":{"values":[{"x":-1.2,"y":5.67,"t":"CEP55"}]},"mark":{"type":"text","align":"left","angle":270,"fontSize":22.5,"fontStyle":"italic"},"encoding":{"text":{"field":"t"}}}
    ]}
   ],"spacing":65,"bounds":"flush"}
  ],"spacing":14}
 ],"spacing":-19},
{"resolve":{"scale":{"fill":"independent","size":"independent","color":"independent"}},"hconcat":[
 {"width":605,"height":144,"title":{"text":"E","fontSize":32,"fontWeight":"bold","anchor":"start","dx":-47,"offset":4},
  "encoding":{"x":{"field":"c","type":"nominal","scale":{"type":"point","padding":0.55,"domain":["UCS(n=56)","LAML(n=151)","PAAD(n=177)","UVM(n=80)","CESC(n=304)","COAD(n=469)","READ(n=166)","OV(n=374)","ESCA(n=161)","SKCM(n=103)","HNSC(n=500)","THCA(n=502)","SARC(n=259)","LUSC(n=501)","KIRC(n=534)","STAD(n=375)","LUAD(n=524)","CHOL(n=36)","PCPG(n=178)","UCEC(n=547)","BLCA(n=411)","GBM(n=159)","DLBC(n=48)","MESO(n=86)","PRAD(n=498)","LGG(n=511)","BRCA(n=1097)","LIHC(n=371)","TGCT(n=150)","ACC(n=79)","KIRP(n=288)","KICH(n=65)","THYM(n=119)"]},"axis":{"title":null,"labelAngle":270,"labelPadding":6,"tickSize":0,"labelFontSize":17,"labelOverlap":false,"labelLimit":200}},
   "y":{"field":"v","type":"quantitative","scale":{"domain":[-0.26,0.971],"nice":false},"axis":{"values":[-0.2,0,0.2,0.4,0.6,0.8],"format":".1f","labelFontSize":16.5,"title":"Pearson'CC","titleX":-42,"titleY":72,"titleBaseline":"middle","titleAlign":"center"}}},
  "layer":[
   {"data":{"values":[{"v":0.8},{"v":0.6},{"v":0.4},{"v":0.2},{"v":-0.2}]},"mark":{"type":"rule","color":"black","strokeWidth":2,"strokeDash":[7,5]},"encoding":{"x":{"value":0},"x2":{"value":605}}},
   {"data":{"values":[{"v":0}]},"mark":{"type":"rule","color":"black","strokeWidth":2},"encoding":{"x":{"value":0},"x2":{"value":605}}},
   {"data":{"name":"lollipop"},"mark":{"type":"rule","color":"black","strokeWidth":1.6},"encoding":{"y2":{"datum":0}}},
   {"data":{"name":"lollipop"},"mark":{"type":"point","shape":"circle","filled":true,"stroke":"black","strokeWidth":1,"opacity":1},"encoding":{"fill":{"field":"c","type":"nominal","legend":null,"scale":{"domain":["UCS(n=56)","LAML(n=151)","PAAD(n=177)","UVM(n=80)","CESC(n=304)","COAD(n=469)","READ(n=166)","OV(n=374)","ESCA(n=161)","SKCM(n=103)","HNSC(n=500)","THCA(n=502)","SARC(n=259)","LUSC(n=501)","KIRC(n=534)","STAD(n=375)","LUAD(n=524)","CHOL(n=36)","PCPG(n=178)","UCEC(n=547)","BLCA(n=411)","GBM(n=159)","DLBC(n=48)","MESO(n=86)","PRAD(n=498)","LGG(n=511)","BRCA(n=1097)","LIHC(n=371)","TGCT(n=150)","ACC(n=79)","KIRP(n=288)","KICH(n=65)","THYM(n=119)"],"range":["#1f77b4","#ff7f0e","#2ca02c","#d62728","#9467bd","#8c564b","#e377c2","#7f7f7f","#bcbd22","#17becf","#aec7e8","#ffbb78","#98df8a","#ff9896","#c5b0d5","#c49c94","#f7b6d2","#c7c7c7","#dbdb8d","#9edae5","#393b79","#637939","#8c6d31","#843c39","#7b4173","#5254a3","#8ca252","#bd9e39","#ad494a","#a55194","#6b6ecf","#b5cf6b","#e7ba52"]}},"size":{"field":"p","type":"quantitative","legend":null,"scale":{"domain":[0,100],"range":[30,230]}}}},
   {"data":{"values":[{"c":"READ(n=166)","v":0.68,"p":25},{"c":"SKCM(n=103)","v":0.68,"p":50},{"c":"SARC(n=259)","v":0.68,"p":75}]},"mark":{"type":"point","shape":"circle","fill":"white","stroke":"black","strokeWidth":1,"opacity":1},"encoding":{"size":{"field":"p","type":"quantitative","legend":null,"scale":{"domain":[0,100],"range":[30,230]}}}},
   {"data":{"values":[{"c":"LAML(n=151)","v":0.69,"l":"−log10(p)"},{"c":"OV(n=374)","v":0.67,"l":"25"},{"c":"HNSC(n=500)","v":0.67,"l":"50"},{"c":"LUSC(n=501)","v":0.67,"l":"75"}]},"mark":{"type":"text","align":"left","fontSize":17,"dx":3},"encoding":{"text":{"field":"l"}}}
  ]},
 {"width":206,"height":203,"title":{"text":"F","fontSize":32,"fontWeight":"bold","anchor":"start","dx":-60,"offset":1},
  "encoding":{"x":{"field":"x","type":"quantitative","scale":{"domain":[-0.25,8.43],"nice":false},"axis":{"values":[0,2,4,6,8],"labelFontSize":15,"title":"log2(TPM+1)","titleX":7,"titleY":35,"titleBaseline":"middle","titleAlign":"left"}},
   "y":{"field":"y","type":"quantitative","scale":{"domain":[0.69,11.5],"nice":false},"axis":{"values":[3,6,9],"labelFontSize":16,"title":"log2(TPM+1)","titleX":-33,"titleY":221,"titleBaseline":"middle","titleAlign":"left"}}},
  "layer":[
   {"data":{"values":[{"x":0.15,"y":10.4},{"x":0.2,"y":9.6},{"x":0.3,"y":9.8},{"x":0.15,"y":9},{"x":0.35,"y":9.1},{"x":0.15,"y":8.5},{"x":0.35,"y":8.6},{"x":0.2,"y":8},{"x":0.4,"y":8.1},{"x":0.15,"y":7.5},{"x":0.35,"y":7.6},{"x":0.15,"y":6.9},{"x":0.25,"y":6.3},{"x":0.15,"y":5.9},{"x":0.3,"y":5.5},{"x":0.45,"y":9.5},{"x":0.5,"y":8.9},{"x":6.4,"y":9.8},{"x":6.65,"y":9.9},{"x":6.9,"y":9.5},{"x":0.6,"y":10.2},{"x":0.2,"y":7.2},{"x":0.4,"y":6.8}]},"mark":{"type":"circle","size":42,"color":"#98df8a","opacity":1}},
   {"data":{"values":[{"x":0.3,"y":4.6},{"x":0.7,"y":4.1},{"x":1,"y":4.4},{"x":1.3,"y":4.2},{"x":1.6,"y":4.5},{"x":1.9,"y":4.2},{"x":2.2,"y":4.4},{"x":2.5,"y":4.1},{"x":2.8,"y":4.3},{"x":3.1,"y":4.5},{"x":3.4,"y":4.1},{"x":3.7,"y":4.3},{"x":4,"y":4.1},{"x":1.2,"y":3.7},{"x":1.6,"y":3.8},{"x":2,"y":3.6},{"x":2.4,"y":3.5},{"x":2.8,"y":3.7},{"x":3.2,"y":3.6},{"x":0.6,"y":5},{"x":1.1,"y":11.4},{"x":2.3,"y":10.8},{"x":0.2,"y":4.9},{"x":0.6,"y":4.5},{"x":4.4,"y":4.4},{"x":4.8,"y":4.4}]},"mark":{"type":"circle","size":50,"color":"#c5b0d5","opacity":1}},
   {"data":{"values":[{"x":0.3,"y":3.9},{"x":0.8,"y":3.6},{"x":1.4,"y":3.3},{"x":1.8,"y":3.2},{"x":2.2,"y":3.3},{"x":2.8,"y":3.1},{"x":3.2,"y":3},{"x":3,"y":2.3},{"x":0.65,"y":2.6},{"x":1.7,"y":1.9},{"x":5.2,"y":1.5},{"x":4.4,"y":3.4},{"x":5.6,"y":4.3},{"x":4.8,"y":3.9},{"x":5.2,"y":4.4},{"x":6,"y":4},{"x":7.1,"y":4.2},{"x":2.4,"y":3.8},{"x":3.6,"y":3.8}]},"mark":{"type":"circle","size":42,"color":"#9edae5","opacity":1}},
   {"data":{"values":[{"x":0.3,"y":2.7},{"x":0.7,"y":3.1},{"x":2.6,"y":3},{"x":3.6,"y":2.9},{"x":4.1,"y":3.4},{"x":4.4,"y":3.1},{"x":4.7,"y":3},{"x":5,"y":3.3},{"x":5.4,"y":2.9},{"x":5,"y":2.7},{"x":5.6,"y":2.4},{"x":5.9,"y":2.4},{"x":4.1,"y":1.05},{"x":3.6,"y":2.1},{"x":3.9,"y":2.05},{"x":4.6,"y":2},{"x":6,"y":3.2},{"x":4.2,"y":2.7},{"x":5.8,"y":3.5},{"x":3.1,"y":3.4}]},"mark":{"type":"circle","size":42,"color":"#ff9896","opacity":1}},
   {"data":{"values":[{"x":6.05,"y":1.55},{"x":3.9,"y":1.5},{"x":5.6,"y":4},{"x":5.8,"y":3.8},{"x":6,"y":4.1},{"x":6.3,"y":3.9},{"x":6.6,"y":4.5},{"x":6.9,"y":4.8},{"x":7.1,"y":5},{"x":6.5,"y":5},{"x":6.9,"y":3.9},{"x":6.7,"y":3.4},{"x":6.2,"y":3.4},{"x":6.9,"y":5.4},{"x":7.3,"y":5.7},{"x":7.2,"y":2.7},{"x":7.7,"y":2.9},{"x":6.8,"y":2.5},{"x":7.4,"y":3.5},{"x":6.6,"y":2.5},{"x":5.9,"y":2.9},{"x":5.7,"y":5},{"x":6.2,"y":4.4},{"x":6.5,"y":4.1},{"x":7.3,"y":4.9},{"x":3.1,"y":2.7}]},"mark":{"type":"circle","size":42,"color":"#bd9e39","opacity":1}},
   {"data":{"values":[{"x":6.4,"y":8.4},{"x":6.8,"y":8.2},{"x":7,"y":7.6},{"x":6.6,"y":7.3},{"x":7.1,"y":7},{"x":7.4,"y":6.7},{"x":7.6,"y":6.1},{"x":7.85,"y":5.7},{"x":6.9,"y":7.9},{"x":6.3,"y":9},{"x":6.6,"y":8.9},{"x":6.2,"y":7.7},{"x":7.7,"y":5.2}]},"mark":{"type":"circle","size":42,"color":"#c7c7c7","opacity":1}},
   {"data":{"values":[{"x":1.3,"y":10},{"x":2.1,"y":10},{"x":2.7,"y":10.1},{"x":3.2,"y":10},{"x":3.7,"y":9.9},{"x":4.2,"y":10.1},{"x":4.7,"y":10.2},{"x":5.1,"y":9.9},{"x":5.6,"y":9.7},{"x":5.9,"y":9.1},{"x":3.5,"y":9.3},{"x":4.6,"y":9.2},{"x":5.2,"y":9.2},{"x":5.4,"y":8.6},{"x":3.9,"y":8.5},{"x":3,"y":8.4},{"x":4.7,"y":8},{"x":6.2,"y":9.4},{"x":6.1,"y":8.6},{"x":4,"y":9.5}]},"mark":{"type":"circle","size":60,"color":"#d62728","opacity":1}},
   {"data":{"values":[{"x":1.55,"y":10.9},{"x":3.9,"y":10.7},{"x":4.2,"y":9.4},{"x":5.7,"y":9.5},{"x":7.15,"y":6},{"x":6.9,"y":8.4},{"x":2.9,"y":9.8}]},"mark":{"type":"circle","size":42,"color":"#17becf","opacity":1}},
   {"data":{"values":[{"x":1.7,"y":3},{"x":1.8,"y":2.8},{"x":4.4,"y":5.1},{"x":5.6,"y":9},{"x":7,"y":4.5},{"x":8,"y":6.9},{"x":6.7,"y":9},{"x":6.5,"y":5.5}]},"mark":{"type":"circle","size":42,"color":"#6b6ecf","opacity":1}},
   {"data":{"values":[{"x":0.3,"y":9.7},{"x":1.2,"y":9.9},{"x":3.8,"y":4.7},{"x":0.4,"y":2.7},{"x":3.9,"y":3.2}]},"mark":{"type":"circle","size":42,"color":"#a55194","opacity":1}},
   {"data":{"values":[{"x":1.5,"y":4.7},{"x":1.9,"y":4.9},{"x":2.3,"y":4.7},{"x":2.7,"y":4.9},{"x":3.1,"y":4.7},{"x":3.5,"y":4.9},{"x":3.9,"y":4.7},{"x":4.3,"y":4.9},{"x":4.7,"y":4.7},{"x":5.1,"y":4.8},{"x":5.5,"y":4.9},{"x":1,"y":5.1},{"x":1.3,"y":5.3},{"x":1.6,"y":5.1},{"x":1.9,"y":5.3},{"x":2.2,"y":5.2},{"x":2.5,"y":5.3},{"x":2.8,"y":5.1},{"x":3.1,"y":5.3},{"x":3.4,"y":5.1},{"x":3.7,"y":5.3},{"x":4,"y":5.1},{"x":4.3,"y":5.3},{"x":4.6,"y":5.1},{"x":4.9,"y":5.3},{"x":5.2,"y":5.2},{"x":5.5,"y":5.3},{"x":5.8,"y":5.2},{"x":6.1,"y":5.3},{"x":0.7,"y":5.6},{"x":1,"y":5.7},{"x":1.3,"y":5.6},{"x":1.6,"y":5.7},{"x":1.9,"y":5.6},{"x":2.2,"y":5.7},{"x":2.5,"y":5.6},{"x":2.8,"y":5.7},{"x":3.1,"y":5.6},{"x":3.4,"y":5.7},{"x":3.7,"y":5.6},{"x":4,"y":5.7},{"x":4.3,"y":5.6},{"x":4.6,"y":5.7},{"x":4.9,"y":5.6},{"x":5.2,"y":5.7},{"x":5.5,"y":5.6},{"x":5.8,"y":5.7},{"x":6.1,"y":5.6},{"x":6.4,"y":5.7},{"x":0.5,"y":6},{"x":0.8,"y":6.1},{"x":1.1,"y":6},{"x":1.4,"y":6.1},{"x":1.7,"y":6},{"x":2,"y":6.1},{"x":2.3,"y":6},{"x":2.6,"y":6.1},{"x":2.9,"y":6},{"x":3.2,"y":6.1},{"x":3.5,"y":6},{"x":3.8,"y":6.1},{"x":4.1,"y":6},{"x":4.4,"y":6.1},{"x":4.7,"y":6},{"x":5,"y":6.1},{"x":5.3,"y":6},{"x":5.6,"y":6.1},{"x":5.9,"y":6},{"x":6.2,"y":6.1},{"x":6.5,"y":6},{"x":0.7,"y":6.5},{"x":1,"y":6.4},{"x":1.3,"y":6.5},{"x":1.6,"y":6.4},{"x":1.9,"y":6.5},{"x":2.2,"y":6.4},{"x":2.5,"y":6.5},{"x":2.8,"y":6.4},{"x":3.1,"y":6.5},{"x":3.4,"y":6.4},{"x":3.7,"y":6.5},{"x":4,"y":6.4},{"x":4.3,"y":6.5},{"x":4.6,"y":6.4},{"x":4.9,"y":6.5},{"x":5.2,"y":6.4},{"x":5.5,"y":6.5},{"x":5.8,"y":6.4},{"x":6.1,"y":6.5},{"x":6.5,"y":6.5},{"x":1,"y":6.9},{"x":1.5,"y":6.8},{"x":2,"y":6.9},{"x":4.5,"y":6.9},{"x":5,"y":6.8},{"x":5.5,"y":6.9},{"x":6,"y":6.8},{"x":6.4,"y":7},{"x":0.4,"y":4.4},{"x":0.6,"y":4},{"x":1,"y":3.9},{"x":1.4,"y":4.3},{"x":2.9,"y":3.5},{"x":3.4,"y":2.8},{"x":3.5,"y":2.6},{"x":2.1,"y":2.2},{"x":0.35,"y":2.8},{"x":4.2,"y":2.6},{"x":4.4,"y":2.4},{"x":4.9,"y":4.1},{"x":4.3,"y":3.9},{"x":3.6,"y":10.7},{"x":7.4,"y":6.1},{"x":7.4,"y":8.1},{"x":6.9,"y":7.4},{"x":6.6,"y":6.8}]},"mark":{"type":"circle","size":85,"color":"#2ca02c","opacity":1}},
   {"data":{"values":[{"x":2.3,"y":9.9},{"x":2.7,"y":9.8},{"x":3.1,"y":9.9},{"x":3.5,"y":9.8},{"x":3.9,"y":9.9},{"x":4.3,"y":9.8},{"x":1.9,"y":9.5},{"x":2.3,"y":9.4},{"x":2.7,"y":9.5},{"x":3.1,"y":9.4},{"x":3.5,"y":9.5},{"x":4.3,"y":9.4},{"x":4.7,"y":9.5},{"x":5,"y":9.4},{"x":1.5,"y":9},{"x":1.85,"y":9.1},{"x":2.2,"y":9},{"x":2.55,"y":9.1},{"x":2.9,"y":9},{"x":3.25,"y":9.1},{"x":3.6,"y":9},{"x":3.95,"y":9.1},{"x":4.3,"y":9},{"x":4.65,"y":8.8},{"x":5.2,"y":8.9},{"x":1.5,"y":8.6},{"x":1.85,"y":8.6},{"x":2.2,"y":8.7},{"x":2.55,"y":8.6},{"x":2.9,"y":8.7},{"x":3.25,"y":8.6},{"x":3.6,"y":8.7},{"x":4.3,"y":8.6},{"x":4.65,"y":8.5},{"x":5,"y":8.5},{"x":5.7,"y":8.7},{"x":1.5,"y":8.2},{"x":1.85,"y":8.2},{"x":2.2,"y":8.3},{"x":2.55,"y":8.2},{"x":2.9,"y":8},{"x":3.25,"y":8.2},{"x":3.6,"y":8.2},{"x":3.95,"y":8.1},{"x":4.3,"y":8.2},{"x":5,"y":8.1},{"x":5.35,"y":8.2},{"x":5.7,"y":8.1},{"x":1.7,"y":7.8},{"x":2.05,"y":7.8},{"x":2.4,"y":7.7},{"x":2.75,"y":7.8},{"x":3.1,"y":7.7},{"x":3.45,"y":7.8},{"x":3.8,"y":7.7},{"x":4.15,"y":7.8},{"x":4.5,"y":7.6},{"x":4.85,"y":7.7},{"x":5.2,"y":7.6},{"x":5.55,"y":7.7},{"x":5.9,"y":7.6},{"x":1.6,"y":7.3},{"x":1.95,"y":7.3},{"x":2.3,"y":7.4},{"x":2.65,"y":7.3},{"x":3,"y":7.2},{"x":3.35,"y":7.4},{"x":3.7,"y":7.2},{"x":4.05,"y":7.4},{"x":4.4,"y":7.2},{"x":4.75,"y":7.3},{"x":5.1,"y":7.2},{"x":5.45,"y":7.3},{"x":5.8,"y":7.2},{"x":2.3,"y":6.9},{"x":2.7,"y":6.8},{"x":3.1,"y":6.9},{"x":3.5,"y":6.8},{"x":3.9,"y":6.9},{"x":4.2,"y":6.7},{"x":5.7,"y":6.7},{"x":2.6,"y":6.1},{"x":3.3,"y":6.3},{"x":4.3,"y":5.8},{"x":2.8,"y":5.2},{"x":3.6,"y":5.4},{"x":4.6,"y":5.4},{"x":5.3,"y":6.2},{"x":5.5,"y":4.5},{"x":5,"y":5},{"x":7.4,"y":4.9},{"x":6.6,"y":5.7},{"x":6.2,"y":6.7},{"x":2,"y":5.9}]},"mark":{"type":"circle","size":85,"color":"#ff7f0e","opacity":1}},
   {"data":{"values":[{"x":2.2,"y":7.8},{"x":3.1,"y":8.4},{"x":4,"y":8.6},{"x":3,"y":7.4},{"x":4.6,"y":7.3},{"x":5.2,"y":7.8},{"x":5.7,"y":8.2},{"x":2.6,"y":9},{"x":4.9,"y":8.9},{"x":3.4,"y":6.9},{"x":2.3,"y":6.6},{"x":3.9,"y":7.9},{"x":1.9,"y":8.5},{"x":5.1,"y":6.9},{"x":3.7,"y":7.1},{"x":6.1,"y":7.4},{"x":3.4,"y":8.9}]},"mark":{"type":"circle","size":42,"color":"#2ca02c","opacity":1}},
   {"data":{"values":[{"x":0.5,"y":8.6},{"x":0.8,"y":8.8},{"x":1.1,"y":8.9},{"x":0.6,"y":8.1},{"x":0.9,"y":8.2},{"x":1.2,"y":8.3},{"x":0.4,"y":7.6},{"x":0.7,"y":7.6},{"x":1,"y":7.7},{"x":1.3,"y":7.6},{"x":0.5,"y":7.2},{"x":0.8,"y":7.2},{"x":1.1,"y":7.2},{"x":1.4,"y":7.1},{"x":1.6,"y":7},{"x":0.4,"y":6.4},{"x":0.3,"y":5.9},{"x":0.2,"y":5.2},{"x":0.3,"y":4.7},{"x":0.9,"y":5},{"x":2.2,"y":8.8},{"x":2.9,"y":7.3},{"x":3.5,"y":9.5},{"x":4.4,"y":8.7},{"x":5.2,"y":8.3},{"x":5.3,"y":7},{"x":3.2,"y":5.8},{"x":4,"y":6.2},{"x":1.9,"y":6.6},{"x":2.6,"y":7},{"x":3.6,"y":6.7},{"x":2.2,"y":5.6},{"x":1.5,"y":9.1},{"x":1.7,"y":3},{"x":1.8,"y":2.9},{"x":1.6,"y":6.2}]},"mark":{"type":"circle","size":48,"color":"#1f77b4","opacity":1}},
   {"data":{"values":[{"x":0.1,"y":7.2},{"x":8,"y":6.35}]},"mark":{"type":"line","color":"#ff0000","strokeWidth":4.5}},
   {"data":{"values":[{"x":0.38,"y":10.86,"t":"R"},{"x":0.38,"y":9.58,"t":"p"}]},"mark":{"type":"text","align":"left","fontSize":22,"fontStyle":"italic"},"encoding":{"text":{"field":"t"}}},
   {"data":{"values":[{"x":1.17,"y":10.86,"t":"= - 0.12"},{"x":1.0,"y":9.58,"t":"< 2.2e−16"}]},"mark":{"type":"text","align":"left","fontSize":22},"encoding":{"text":{"field":"t"}}},
   {"data":{"values":[{"x":5.68,"y":-1.17,"t":"CBX2"}]},"mark":{"type":"text","align":"left","fontSize":22,"fontStyle":"italic"},"encoding":{"text":{"field":"t"}}},
   {"data":{"values":[{"x":-1.64,"y":7.0,"t":"CDKN1A"}]},"mark":{"type":"text","align":"left","angle":270,"fontSize":22,"fontStyle":"italic"},"encoding":{"text":{"field":"t"}}}
  ]}
 ],"spacing":131,"bounds":"flush"}
],"spacing":-17}
